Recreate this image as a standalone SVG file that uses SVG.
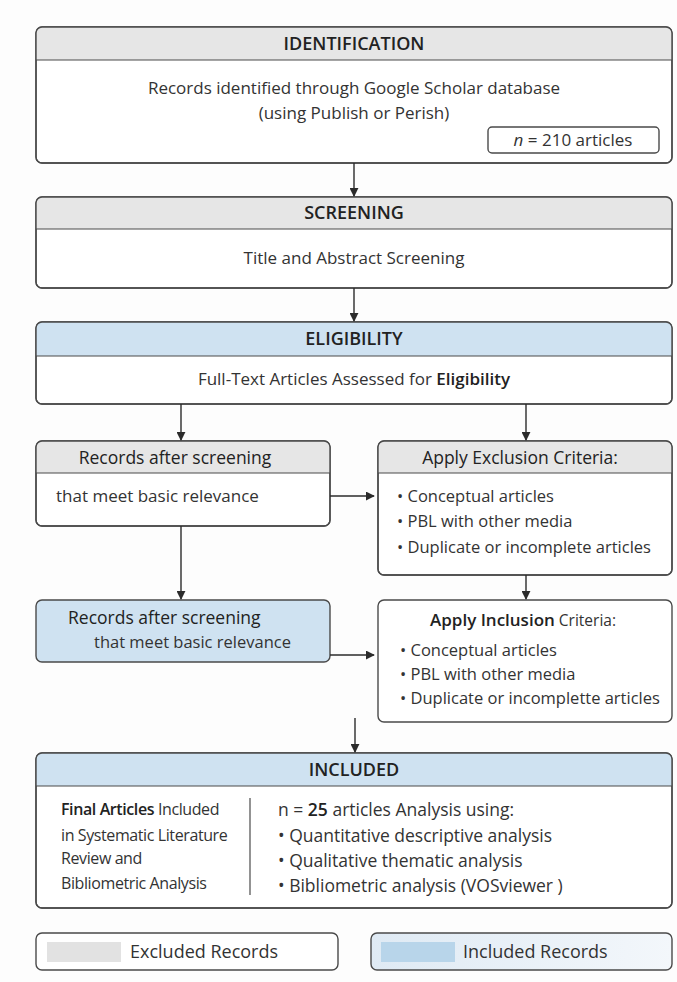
<svg xmlns="http://www.w3.org/2000/svg" width="677" height="982" viewBox="0 0 677 982">
<defs>
<marker id="ah" viewBox="0 0 10 10" refX="9" refY="5" markerWidth="9" markerHeight="9" markerUnits="userSpaceOnUse" orient="auto">
<path d="M0,0 L10,5 L0,10 Z" fill="#2b2b2b"/>
</marker>
<linearGradient id="lg" x1="0" y1="0" x2="1" y2="0">
<stop offset="0" stop-color="#dfeaf4"/>
<stop offset="1" stop-color="#f3f7fb"/>
</linearGradient>
</defs>
<style>
text{font-family:"Open Sans","Noto Sans","Liberation Sans",sans-serif;fill:#333}
.box{fill:#fff;stroke:#4a4a4a;stroke-width:1.4}
.nob{fill:none;stroke:#4a4a4a;stroke-width:1.4}
.hg{fill:#e6e6e6}
.hb{fill:#cfe2f1}
.sep{stroke:#4a4a4a;stroke-width:1.2}
.h{font-size:18px;font-weight:600;fill:#222;text-anchor:middle}
.sh{font-size:17.5px;font-weight:500;fill:#222}
.b{font-size:17px}
.t{font-size:16.5px}
.r{font-size:17.5px}
.l{font-size:16px;letter-spacing:-0.4px}
.c{text-anchor:middle}
.bold{font-weight:600;fill:#222}
.conn line{stroke:#2b2b2b;stroke-width:1.4;marker-end:url(#ah)}
</style>
<rect width="677" height="982" fill="#fdfdfd"/>

<g id="identification">
<rect class="box" x="36" y="27" width="636" height="136" rx="6"/>
<path class="hg" d="M36,60 L36,33 Q36,27 42,27 L666,27 Q672,27 672,33 L672,60 Z"/>
<line class="sep" x1="36" y1="60" x2="672" y2="60"/>
<rect class="nob" x="36" y="27" width="636" height="136" rx="6"/>
<text class="h" x="354" y="50">IDENTIFICATION</text>
<text class="b c" x="354" y="94">Records identified through Google Scholar database</text>
<text class="b c" x="354" y="119">(using Publish or Perish)</text>
<rect class="nob" x="488" y="127" width="171" height="26" rx="4"/>
<text class="b c" x="573" y="146"><tspan font-style="italic">n</tspan> = 210 articles</text>
</g>

<g id="screening">
<rect class="box" x="36" y="197" width="636" height="91" rx="6"/>
<path class="hg" d="M36,229 L36,203 Q36,197 42,197 L666,197 Q672,197 672,203 L672,229 Z"/>
<line class="sep" x1="36" y1="229" x2="672" y2="229"/>
<rect class="nob" x="36" y="197" width="636" height="91" rx="6"/>
<text class="h" x="354" y="219">SCREENING</text>
<text class="b c" x="354" y="264">Title and Abstract Screening</text>
</g>

<g id="eligibility">
<rect class="box" x="36" y="322" width="636" height="82" rx="6"/>
<path class="hb" d="M36,356 L36,328 Q36,322 42,322 L666,322 Q672,322 672,328 L672,356 Z"/>
<line class="sep" x1="36" y1="356" x2="672" y2="356"/>
<rect class="nob" x="36" y="322" width="636" height="82" rx="6"/>
<text class="h" x="354" y="345">ELIGIBILITY</text>
<text class="b c" x="354" y="385">Full-Text Articles Assessed for <tspan class="bold">Eligibility</tspan></text>
</g>

<g id="records-screening">
<rect class="box" x="36" y="441" width="294" height="85" rx="6"/>
<path class="hg" d="M36,473 L36,447 Q36,441 42,441 L324,441 Q330,441 330,447 L330,473 Z"/>
<line class="sep" x1="36" y1="473" x2="330" y2="473"/>
<rect class="nob" x="36" y="441" width="294" height="85" rx="6"/>
<text class="sh" x="175" y="464" text-anchor="middle">Records after screening</text>
<text class="b" x="56" y="502">that meet basic relevance</text>
</g>

<g id="exclusion">
<rect class="box" x="378" y="441" width="294" height="134" rx="6"/>
<path class="hg" d="M378,473 L378,447 Q378,441 384,441 L666,441 Q672,441 672,447 L672,473 Z"/>
<line class="sep" x1="378" y1="473" x2="672" y2="473"/>
<rect class="nob" x="378" y="441" width="294" height="134" rx="6"/>
<text class="sh" x="520" y="464" text-anchor="middle">Apply Exclusion Criteria:</text>
<text class="t" x="397" y="502">• Conceptual articles</text>
<text class="t" x="397" y="527">• PBL with other media</text>
<text class="t" x="397" y="553">• Duplicate or incomplete articles</text>
</g>

<g id="records-included">
<rect x="36" y="600" width="294" height="62" rx="6" fill="#cfe2f1" stroke="#4a4a4a" stroke-width="1.4"/>
<text class="sh" x="68" y="624" font-weight="600">Records after screening</text>
<text class="t" x="94" y="648">that meet basic relevance</text>
</g>

<g id="inclusion">
<rect class="box" x="378" y="600" width="294" height="122" rx="6"/>
<text x="523" y="626" text-anchor="middle"><tspan font-size="17" font-weight="600" fill="#222">Apply Inclusion</tspan><tspan font-size="15.5"> Criteria:</tspan></text>
<text class="t" x="400" y="656">• Conceptual articles</text>
<text class="t" x="400" y="680">• PBL with other media</text>
<text class="t" x="400" y="704">• Duplicate or incomplette articles</text>
</g>

<g id="included">
<rect class="box" x="36" y="753" width="636" height="155" rx="6"/>
<path class="hb" d="M36,786 L36,759 Q36,753 42,753 L666,753 Q672,753 672,759 L672,786 Z"/>
<line class="sep" x1="36" y1="786" x2="672" y2="786"/>
<rect class="nob" x="36" y="753" width="636" height="155" rx="6"/>
<text class="h" x="354" y="776">INCLUDED</text>
<text class="l" x="61" y="815"><tspan class="bold">Final Articles</tspan> Included</text>
<text class="l" x="61" y="841">in Systematic Literature</text>
<text class="l" x="61" y="864">Review and</text>
<text class="l" x="61" y="889">Bibliometric Analysis</text>
<line x1="250" y1="798" x2="250" y2="895" stroke="#4a4a4a" stroke-width="1.2"/>
<text class="r" x="278" y="816">n = <tspan class="bold">25</tspan> articles Analysis  using:</text>
<text class="r" x="278" y="842">• Quantitative descriptive analysis</text>
<text class="r" x="278" y="867">• Qualitative thematic analysis</text>
<text class="r" x="278" y="892">• Bibliometric analysis (VOSviewer )</text>
</g>

<g id="legend-excluded">
<rect class="box" x="36" y="933" width="302" height="37" rx="6"/>
<rect x="47" y="942" width="74" height="20" fill="#e2e2e2"/>
<text x="130" y="958" font-size="18">Excluded Records</text>
</g>

<g id="legend-included">
<rect x="371" y="933" width="301" height="37" rx="6" fill="url(#lg)" stroke="#4a4a4a" stroke-width="1.4"/>
<rect x="381" y="942" width="74" height="20" fill="#b8d5ea"/>
<text x="463" y="958" font-size="18">Included Records</text>
</g>

<g id="connectors" class="conn">
<line x1="354" y1="163" x2="354" y2="196"/>
<line x1="354" y1="288" x2="354" y2="321"/>
<line x1="181" y1="404" x2="181" y2="440"/>
<line x1="526" y1="404" x2="526" y2="440"/>
<line x1="330" y1="496" x2="374" y2="496"/>
<line x1="181" y1="526" x2="181" y2="599"/>
<line x1="526" y1="575" x2="526" y2="599"/>
<line x1="330" y1="655" x2="374" y2="655"/>
<line x1="355" y1="718" x2="355" y2="752"/>
</g>
</svg>
